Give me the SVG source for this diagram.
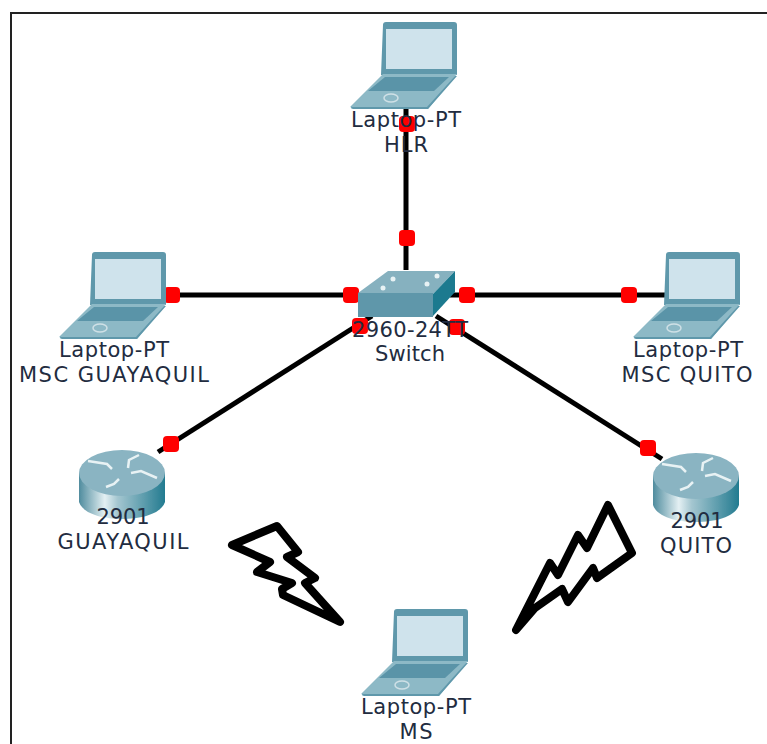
<svg xmlns="http://www.w3.org/2000/svg" width="767" height="744" viewBox="0 0 767 744">
<style>
text{font-family:"DejaVu Sans","Liberation Sans",sans-serif;font-size:21px;fill:#222c40;text-anchor:middle}
.link{stroke:#000;stroke-width:5;fill:none}
.dot{fill:#f00}
.bolt{fill:#fff;stroke:#000;stroke-width:8;stroke-linejoin:round}
</style>
<defs>
<filter id="soft" x="-5%" y="-5%" width="110%" height="110%"><feGaussianBlur stdDeviation="0.6"/></filter>
<linearGradient id="cyl" x1="0" x2="1" y1="0" y2="0">
<stop offset="0" stop-color="#4f8c9e"/><stop offset="0.3" stop-color="#e4f0f3"/><stop offset="0.45" stop-color="#a4c6d0"/><stop offset="1" stop-color="#237b90"/>
</linearGradient>
<g id="laptop" filter="url(#soft)">
<path d="M33 3Q33 0 36 0H104Q107 0 107 3V53H31Z" fill="#5f98ab"/>
<rect x="36" y="7" width="66" height="40" fill="#cfe3ec"/>
<path d="M33 52L107 52L78 87H3Q0 87 1 84Z" fill="#8db9c6"/>
<path d="M35 55H99L84 69H18Z" fill="#5a94a8"/>
<path d="M0 84L2 85H77L105 54L107 54L78 87H3Z" fill="#5f98ab"/>
<ellipse cx="41" cy="76" rx="7" ry="4" fill="none" stroke="#cfe0e6" stroke-width="1.5"/>
</g>
<g id="router" filter="url(#soft)">
<path d="M0 27V56C4 68 24 73 43 73C62 73 82 68 86 56V27Z" fill="url(#cyl)"/>
<ellipse cx="43" cy="27" rx="43" ry="23" fill="#8ab4c2"/>
<g fill="none" stroke="#e8f2f4" stroke-width="2.5">
<path d="M9 15L28 18L33 23"/><path d="M49 22L50 14L60 9"/><path d="M52 27L62 25L78 32"/><path d="M27 41L35 38L40 33"/>
</g>
</g>
</defs>
<rect width="767" height="744" fill="#fff"/>
<path d="M11 744V13H767" fill="none" stroke="#222" stroke-width="2"/>
<g id="connectors">
<path class="link" d="M406 105V270"/>
<path class="link" d="M166 295H360"/>
<path class="link" d="M450 295H670"/>
<path class="link" d="M372 316L158 452"/>
<path class="link" d="M436 316L662 459"/>
<g class="dot">
<rect x="399" y="116" width="16" height="16" rx="4"/>
<rect x="399" y="230" width="16" height="16" rx="4"/>
<rect x="164" y="287" width="16" height="16" rx="4"/>
<rect x="343" y="287" width="16" height="16" rx="4"/>
<rect x="459" y="287" width="16" height="16" rx="4"/>
<rect x="621" y="287" width="16" height="16" rx="4"/>
<rect x="352" y="318" width="16" height="16" rx="4"/>
<rect x="449" y="319" width="16" height="16" rx="4"/>
<rect x="163" y="436" width="16" height="16" rx="4"/>
<rect x="640" y="440" width="16" height="16" rx="4"/>
</g>
</g>
<g id="laptop-hlr"><use href="#laptop" x="350" y="22"/><text x="406" y="127" textLength="110">Laptop-PT</text><text x="406" y="152" textLength="44">HLR</text></g>
<g id="switch">
<g filter="url(#soft)">
<path d="M358 293L388 271H455L433 294Z" fill="#86b1bf"/>
<path d="M433 294L455 271V292L433 316Z" fill="#1f7a8f"/>
<path d="M358 293H433V317H358Z" fill="#5e97aa"/>
<g fill="#e8f2f4"><circle cx="393" cy="279" r="2.5"/><circle cx="437" cy="276" r="2.5"/><circle cx="383" cy="288" r="2.5"/><circle cx="427" cy="284" r="2.5"/></g>
</g>
<text x="410" y="337" textLength="116">2960-24TT</text><text x="410" y="361" textLength="70">Switch</text>
</g>
<g id="laptop-msc-guayaquil"><use href="#laptop" x="59" y="252"/><text x="114" y="357" textLength="110">Laptop-PT</text><text x="114" y="382" textLength="190">MSC GUAYAQUIL</text></g>
<g id="laptop-msc-quito"><use href="#laptop" x="633" y="252"/><text x="688" y="357" textLength="110">Laptop-PT</text><text x="687" y="382" textLength="131">MSC QUITO</text></g>
<g id="router-guayaquil"><use href="#router" x="79" y="446"/><text x="123" y="524" textLength="53">2901</text><text x="123" y="549" textLength="131">GUAYAQUIL</text></g>
<g id="router-quito"><use href="#router" x="653" y="449"/><text x="697" y="528" textLength="53">2901</text><text x="696" y="553" textLength="72">QUITO</text></g>
<g id="laptop-ms"><use href="#laptop" x="361" y="609"/><text x="416" y="714" textLength="110">Laptop-PT</text><text x="416" y="739" textLength="33">MS</text></g>
<path class="bolt" d="M232 545L277 526L298 552L287 557L315 578L305 583L340 622L283 595L282 589L292 583L257 572L270 562Z"/>
<path class="bolt" d="M516 630L550 563L558 575L578 535L587 548L608 505L632 553L597 578L593 568L568 602L562 589L535 608Z"/>
</svg>
